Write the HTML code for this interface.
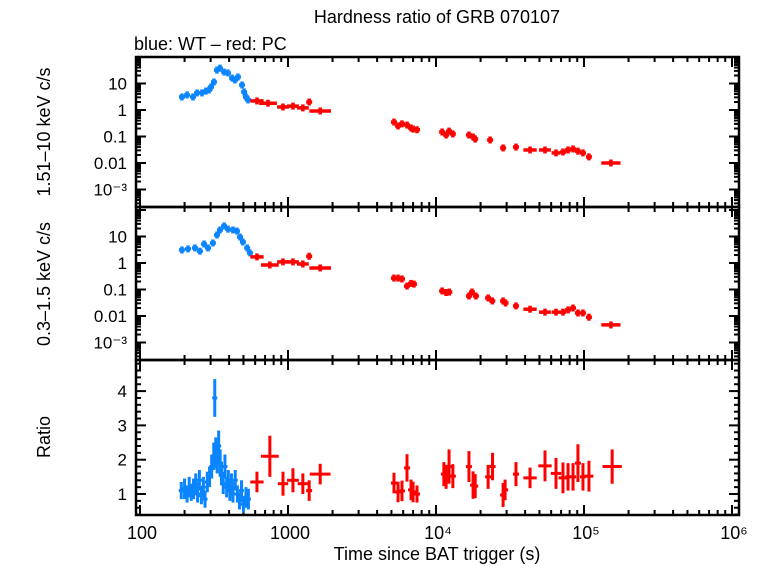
<!DOCTYPE html>
<html><head><meta charset="utf-8"><style>
body{margin:0;background:#fff;}
svg{display:block;font-family:"Liberation Sans",sans-serif;}
</style></head><body>
<svg id="c" width="758" height="566">
<text x="437" y="23" font-size="18" text-anchor="middle">Hardness ratio of GRB 070107</text>
<text x="134" y="50" font-size="18">blue: WT – red: PC</text>
<text transform="translate(50,132) rotate(-90)" font-size="18" text-anchor="middle">1.51–10 keV c/s</text>
<text transform="translate(50,284) rotate(-90)" font-size="18" text-anchor="middle">0.3–1.5 keV c/s</text>
<text transform="translate(50,437) rotate(-90)" font-size="18" text-anchor="middle">Ratio</text>
<text x="437" y="560" font-size="18" text-anchor="middle">Time since BAT trigger (s)</text>
</svg>
<script>
// ---- data ----
const hardBlueT=[192,208,228,243,262,279,293,302,316,331,347,370,393,419,438,459,489,505,520,537];
const hardBlueV=[3.1,3.7,3.1,4.4,4.4,5.2,5.7,7.4,11.4,32,38,27,25,16,13.6,17.6,8.8,4.8,3.1,2.4];
const hardRedT=[617,733,925,1080,1260,1390,1650,5200,5540,5890,6370,6780,7000,7440,11000,11700,12250,13000,16700,17800,18400,23200,28400,34700,43200,54500,64700,72100,78000,84300,91000,98400,108000,152000];
const hardRedV=[2.2,1.8,1.3,1.4,1.2,2.0,0.92,0.35,0.25,0.30,0.27,0.21,0.19,0.18,0.148,0.114,0.16,0.125,0.114,0.096,0.08,0.074,0.037,0.04,0.031,0.031,0.024,0.026,0.031,0.034,0.028,0.024,0.017,0.010];
const softBlueT=[192,211,235,254,271,288,311,331,347,370,393,425,452,474,496,530,553];
const softBlueV=[3.1,3.4,3.7,2.8,5.2,3.7,5.7,11.4,17.6,25,19,17.6,16,9.6,6.2,3.7,2.4];
const softRedT=[617,754,925,1080,1260,1390,1650,5200,5540,5890,6370,6780,7100,11000,11700,12300,16700,17500,18600,22500,24000,28400,29500,34700,43200,54500,64700,72100,78000,84300,91000,98400,108000,152000];
const softRedV=[1.7,0.84,1.1,1.1,0.92,1.8,0.65,0.27,0.27,0.25,0.135,0.17,0.16,0.088,0.077,0.08,0.057,0.08,0.057,0.048,0.037,0.037,0.031,0.024,0.018,0.014,0.014,0.014,0.017,0.02,0.013,0.013,0.009,0.0046];
const ratioBlueT=[190,200,208,215,222,230,238,245,252,260,268,275,285,295,305,315,320,325,332,340,348,355,365,375,385,395,405,415,425,440,455,470,485,500,520,540];
const ratioBlueV=[1.1,1.15,1.0,1.2,1.05,1.15,1.3,1.0,1.4,0.95,1.2,0.85,1.35,1.5,1.8,2.1,3.8,2.2,2.0,2.4,1.9,1.6,1.3,1.8,1.2,1.4,1.1,1.3,1.0,1.4,1.0,0.8,1.1,0.7,0.9,0.85];
const ratioBlueE=[0.25,0.3,0.25,0.3,0.25,0.3,0.3,0.25,0.3,0.25,0.3,0.25,0.3,0.3,0.35,0.4,0.55,0.45,0.4,0.45,0.4,0.35,0.3,0.35,0.3,0.3,0.3,0.3,0.25,0.3,0.25,0.25,0.3,0.25,0.3,0.3];
const ratioRedT=[617,754,925,1080,1260,1390,1650,5200,5540,5890,6370,6780,7000,7440,11300,11700,12250,13000,16700,17800,18400,22500,24100,28400,29300,34700,43200,54500,64700,72100,78000,84300,91000,98400,108000,155000];
const ratioRedV=[1.35,2.1,1.3,1.4,1.3,1.1,1.58,1.32,1.06,1.09,1.76,1.12,1.06,1.0,1.58,1.5,1.8,1.52,1.8,1.26,1.23,1.5,1.8,0.97,1.12,1.58,1.47,1.82,1.6,1.47,1.5,1.5,1.9,1.5,1.52,1.8];
const ratioRedE=[0.3,0.6,0.35,0.35,0.3,0.3,0.3,0.3,0.3,0.3,0.4,0.3,0.3,0.25,0.35,0.35,0.5,0.35,0.45,0.4,0.35,0.35,0.4,0.35,0.3,0.35,0.3,0.45,0.45,0.45,0.4,0.4,0.55,0.4,0.45,0.5];
const ratioRedX=[0.045,0.06,0.035,0.04,0.035,0.02,0.07,0.015,0.015,0.015,0.02,0.02,0.015,0.02,0.02,0.02,0.02,0.02,0.015,0.02,0.015,0.015,0.015,0.02,0.015,0.015,0.045,0.045,0.035,0.03,0.02,0.02,0.02,0.02,0.03,0.065];
const hardRedX=[0.045,0.06,0.04,0.04,0.04,0.015,0.073,0.01,0.01,0.01,0.01,0.01,0.01,0.01,0.01,0.01,0.01,0.01,0.01,0.01,0.01,0.01,0.01,0.01,0.045,0.04,0.03,0.02,0.015,0.015,0.015,0.015,0.02,0.065];
const xTickLabels=["100","1000","10⁴","10⁵","10⁶"];
const logYTicks=[10,1,0.1,0.01,0.001];
const logYLabels=["10","1","0.1","0.01","10⁻³"];
const ratioTicks=[1,2,3,4];

// ---- axes ----
const L=136,R=739;
const xs=t=>140+148*Math.log10(t/100);
const panels=[
 {top:57,bot:207,y:v=>110-26.5*Math.log10(v),log:true},
 {top:207,bot:360,y:v=>263-26.5*Math.log10(v),log:true},
 {top:360,bot:515,y:v=>494-34.3*(v-1),log:false}
];
const svg=document.getElementById('c');
const NS='http://www.w3.org/2000/svg';
function mk(tag,a,p){const e=document.createElementNS(NS,tag);for(const k in a)e.setAttribute(k,a[k]);(p||svg).appendChild(e);return e;}
function line(x1,y1,x2,y2,c,w,p){return mk('line',{x1,y1,x2,y2,stroke:c,'stroke-width':w},p);}

panels.forEach((P,i)=>{
 const g=mk('g',{});
 
 
 for(let d=100;d<=1e6;d*=10){
  for(let m=1;m<10;m++){
   const t=d*m; if(t>1e6)break;
   const x=xs(t); if(x<L||x>R)continue;
   const len=m==1?10:5;
   line(x,P.top,x,P.top+len,'#000',2,g); line(x,P.bot,x,P.bot-len,'#000',2,g);
  }
 }
 if(P.log){
  for(let e=-4;e<=2;e++)for(let m=1;m<10;m++){
   const v=Math.pow(10,e)*m,y=P.y(v); if(y<P.top||y>P.bot)continue;
   const len=m==1?10:5;
   line(L,y,L+len,y,'#000',2,g); line(R,y,R-len,y,'#000',2,g);
  }
  logYTicks.forEach((v,j)=>{const t=mk('text',{x:L-9,y:P.y(v)+6,'font-size':17,'text-anchor':'end'},g);t.textContent=logYLabels[j];
   
   });
 }else{
  for(let v=0.4;v<=4.9;v+=0.2){const y=P.y(v);const maj=Math.abs(v-Math.round(v))<0.01;line(L,y,L+(maj?10:5),y,'#000',2,g);line(R,y,R-(maj?10:5),y,'#000',2,g);}
  ratioTicks.forEach(v=>{const t=mk('text',{x:L-9,y:P.y(v)+6,'font-size':17,'text-anchor':'end'},g);t.textContent=v;
   
   });
 }
 mk('rect',{x:L,y:P.top,width:R-L,height:P.bot-P.top,fill:'none',stroke:'#000','stroke-width':2.5},g);
});
xTickLabels.forEach((s,j)=>{const t=mk('text',{x:xs(100*Math.pow(10,j))+2,y:539,'font-size':18,'text-anchor':'middle'});t.textContent=s;
 
 });

// ---- marks ----
const BLUE='#0a84ff',RED='#ff0000';
function fluxSeries(T,V,X,P,col,name){
 const g=mk('g',{});
 
 
 T.forEach((t,i)=>{
  const x=xs(t),y=P.y(V[i]);
  const dx=X?Math.max(3,148*X[i]):3;
  line(x-dx,y,x+dx,y,col,3.5,g);
  line(x,y-3.5,x,y+3.5,col,3.5,g);
 });
}
fluxSeries(hardBlueT,hardBlueV,null,panels[0],BLUE,'hard-wt-series');
fluxSeries(hardRedT,hardRedV,hardRedX,panels[0],RED,'hard-pc-series');
fluxSeries(softBlueT,softBlueV,null,panels[1],BLUE,'soft-wt-series');
fluxSeries(softRedT,softRedV,hardRedX,panels[1],RED,'soft-pc-series');
function ratioSeries(T,V,E,X,col,name){
 const P=panels[2];
 const g=mk('g',{});
 
 
 T.forEach((t,i)=>{
  const x=xs(t),y=P.y(V[i]);
  const dx=X?Math.max(3,148*X[i]):2.5;
  line(x-dx,y,x+dx,y,col,3,g);
  line(x,P.y(V[i]+E[i]),x,P.y(V[i]-E[i]),col,3,g);
 });
}
ratioSeries(ratioBlueT,ratioBlueV,ratioBlueE,null,BLUE,'ratio-wt-series');
ratioSeries(ratioRedT,ratioRedV,ratioRedE,ratioRedX,RED,'ratio-pc-series');
</script>
</body></html>
